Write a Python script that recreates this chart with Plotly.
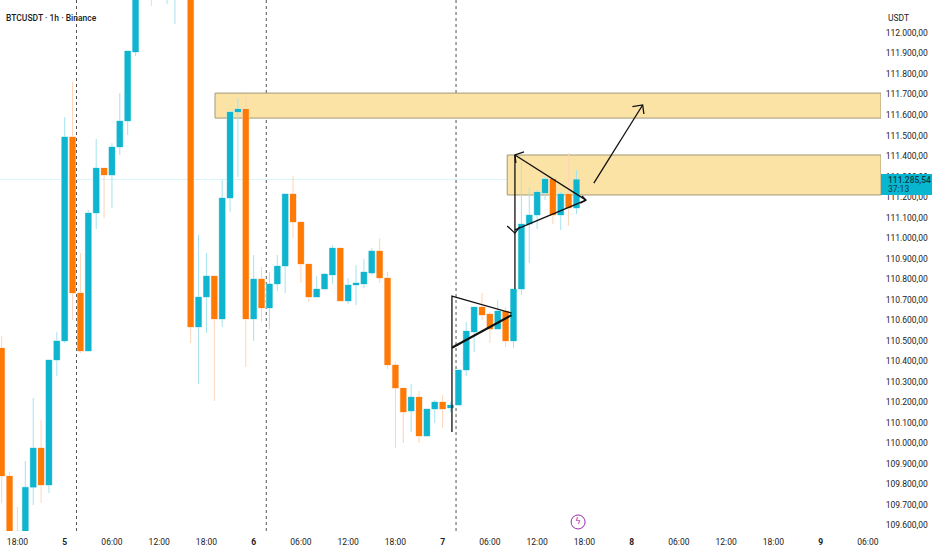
import plotly.graph_objects as go

# Hours counted from day 5 00:00, BTCUSDT 1h candles
hours = list(range(-8, 66))
opens = [110463, 109839, 109570, 109450, 109785, 109976, 109795, 110405, 110498, 111493,
         110732, 110449, 111122, 111341, 111307, 111444, 111571, 111907, 112300, 112450,
         112280, 112300, 112350, 112550, 112400, 110566, 110712, 110815, 110605, 111195,
         111615, 111629, 110605, 110800, 110659, 110776, 110863, 111215, 111078, 110873,
         110712, 110751, 110820, 110951, 110693, 110771, 110776, 110829, 110937, 110805,
         110381, 110268, 110156, 110224, 110034, 110166, 110200, 110171, 110185, 110356,
         110542, 110663, 110629, 110556, 110644, 110498, 110751, 111068, 111112, 111220,
         111288, 111112, 111215, 111146]
highs = [110522, 109859, 109688, 109912, 110220, 110112, 110405, 110542, 111590, 111761,
         110927, 111137, 111483, 111341, 111463, 111707, 111912, 112330, 112500, 112520,
         112480, 112560, 112600, 112600, 112450, 111015, 110927, 110815, 111283, 111615,
         111683, 111702, 110917, 110859, 110834, 110917, 111215, 111302, 111078, 110873,
         110815, 110829, 110966, 110951, 110805, 110868, 110898, 110951, 111000, 110834,
         110395, 110268, 110288, 110254, 110166, 110210, 110234, 110200, 110356, 110590,
         110663, 110732, 110639, 110698, 110663, 110751, 111371, 111244, 111234, 111298,
         111288, 111224, 111415, 111332]
lows = [109707, 109565, 109400, 109430, 109698, 109707, 109756, 110327, 110488, 110600,
        110439, 110449, 111044, 111098, 111146, 111405, 111502, 111888, 112220, 112132,
        112200, 112141, 112044, 112300, 110488, 110288, 110537, 110205, 110566, 111127,
        111298, 110371, 110498, 110590, 110556, 110742, 110732, 111000, 110781, 110688,
        110712, 110751, 110776, 110693, 110678, 110673, 110756, 110820, 110781, 110361,
        109976, 110000, 110054, 110000, 110034, 110098, 110073, 110150, 110185, 110327,
        110444, 110600, 110488, 110556, 110468, 110463, 110722, 110878, 111044, 111185,
        111068, 111039, 111059, 111117]
closes = [109839, 109571, 109450, 109785, 109976, 109795, 110405, 110498, 111493, 110732,
          110449, 111122, 111341, 111307, 111444, 111571, 111912, 112300, 112450, 112280,
          112420, 112500, 112550, 112400, 110566, 110712, 110815, 110605, 111195, 111615,
          111629, 110605, 110800, 110659, 110776, 110863, 111215, 111078, 110873, 110712,
          110751, 110824, 110951, 110693, 110771, 110781, 110834, 110937, 110805, 110381,
          110268, 110151, 110224, 110034, 110166, 110200, 110166, 110185, 110356, 110546,
          110663, 110624, 110556, 110644, 110498, 110751, 111068, 111112, 111224, 111288,
          111112, 111215, 111146, 111285.54]

body_top = [max(o, c) for o, c in zip(opens, closes)]
body_bot = [min(o, c) for o, c in zip(opens, closes)]

last_price = 111285.54

price_ticks = list(range(109600, 112001, 100))
time_ticks = list(range(-6, 103, 6))
time_labels = ["18:00", "<b>5</b>", "06:00", "12:00", "18:00", "<b>6</b>", "06:00", "12:00", "18:00",
               "<b>7</b>", "06:00", "12:00", "18:00", "<b>8</b>", "06:00", "12:00", "18:00",
               "<b>9</b>", "06:00"]
session_breaks = [1.5, 25.6, 49.7]

# Supply zones: start hour, top price, bottom price
zone_start = [19.09, 56.2]
zone_top = [111707, 111405]
zone_bot = [111585, 111210]

# Hand drawn lines on the chart: hours, prices, width
drawings = [
    ([49.18, 49.18, 56.76], [110054, 110717, 110634], 1.3),
    ([49.18, 56.76], [110465, 110624], 2.2),
    ([57.18, 57.18], [110751, 111405], 1.3),
    ([58.33, 57.18, 57.3], [111420, 111405, 111366], 1.3),
    ([56.2, 57.18, 57.8], [111059, 111024, 111054], 1.3),
    ([57.18, 66.2], [111405, 111185], 1.3),
    ([57.18, 66.2], [111040, 111185], 1.3),
    ([65.7, 66.2, 65.5], [111205, 111185, 111170], 1.3),
    ([67.2, 73.4], [111268, 111649], 1.3),
    ([72.1, 73.4, 73.56], [111641, 111649, 111605], 1.3),
]

TEAL = "#0fb5cf"
ORANGE = "#ff7a05"
x_range = [-8.216, 103.67]
y_range = [109571, 112161]

fig = go.Figure()

for hx in session_breaks:
    fig.add_shape(type="line", x0=hx, x1=hx, y0=y_range[0], y1=y_range[1], layer="below",
                  line=dict(color="#555555", width=1, dash="dot"))

fig.add_shape(type="line", x0=x_range[0], x1=x_range[1], y0=last_price, y1=last_price, layer="below",
              line=dict(color="#d8f5f8", width=1))

for x0, top, bot in zip(zone_start, zone_top, zone_bot):
    fig.add_shape(type="rect", x0=x0, x1=x_range[1], y0=bot, y1=top, layer="below",
                  fillcolor="#fbe3a6", line=dict(color="#a39a78", width=1))

# wicks first, pale, then the solid bodies on top
fig.add_trace(go.Candlestick(
    x=hours, open=opens, high=highs, low=lows, close=closes, whiskerwidth=0,
    increasing=dict(line=dict(color="#a6e2ec", width=1), fillcolor="#a6e2ec"),
    decreasing=dict(line=dict(color="#fcd5b8", width=1), fillcolor="#fcd5b8"),
    showlegend=False, hoverinfo="skip"))
fig.add_trace(go.Candlestick(
    x=hours, open=opens, high=body_top, low=body_bot, close=closes, whiskerwidth=0,
    increasing=dict(line=dict(color=TEAL, width=0), fillcolor=TEAL),
    decreasing=dict(line=dict(color=ORANGE, width=0), fillcolor=ORANGE),
    showlegend=False))

for xs, ys, w in drawings:
    fig.add_trace(go.Scatter(x=xs, y=ys, mode="lines", line=dict(color="#111111", width=w),
                             showlegend=False, hoverinfo="skip"))

# purple lightning badge
fig.add_trace(go.Scatter(x=[65.2], y=[109615], mode="markers+text", text=["ϟ"],
                         textposition="middle center",
                         textfont=dict(family="DejaVu Sans", size=9, color="#9c27b0"),
                         marker=dict(size=14, color="rgba(0,0,0,0)", line=dict(color="#9c27b0", width=1)),
                         showlegend=False, hoverinfo="skip"))

# price tag on the axis
fig.add_shape(type="rect", xref="paper", x0=1.0, x1=1.06, y0=111210, y1=111312,
              fillcolor="#08b6d0", line=dict(width=0), layer="above")

text_font = dict(family="Roboto, sans-serif", size=8.5, color="#222222")
fig.add_annotation(xref="paper", x=1.006, y=111285, text="111.285,54", showarrow=False, xanchor="left",
                   font=dict(family="Roboto, sans-serif", size=8.5, color="#0b3b45", weight=500))
fig.add_annotation(xref="paper", x=1.006, y=111240, text="37:13", showarrow=False, xanchor="left",
                   font=dict(family="Roboto, sans-serif", size=8.5, color="#0b3b45"))
fig.add_annotation(xref="paper", yref="paper", x=0.005, y=0.979, text="BTCUSDT · 1h · Binance", showarrow=False,
                   xanchor="left", font=dict(family="Roboto, sans-serif", size=8.5, color="#1c1c1c", weight=500))
fig.add_annotation(xref="paper", yref="paper", x=1.006, y=0.979, text="USDT", showarrow=False,
                   xanchor="left", font=text_font)

fig.update_layout(
    width=932, height=550,
    margin=dict(l=0, r=51, t=0, b=19),
    paper_bgcolor="white", plot_bgcolor="white",
    separators=",.",
    boxgap=0.24, boxgroupgap=0,
    showlegend=False,
)
fig.update_xaxes(range=x_range, rangeslider_visible=False, showgrid=False, zeroline=False,
                 tickmode="array", tickvals=time_ticks, ticktext=time_labels, ticks="outside", ticklen=3,
                 tickcolor="white", tickfont=text_font)
fig.update_yaxes(range=y_range, side="right", showgrid=False, zeroline=False,
                 tickmode="array", tickvals=price_ticks, tickformat=",.2f", ticks="outside", ticklen=2,
                 tickcolor="white", tickfont=text_font)

# the page body has a default margin which would shift the chart
fig.write_html("out.html", config=dict(displayModeBar=False),
               post_script="document.body.style.margin='0';")
